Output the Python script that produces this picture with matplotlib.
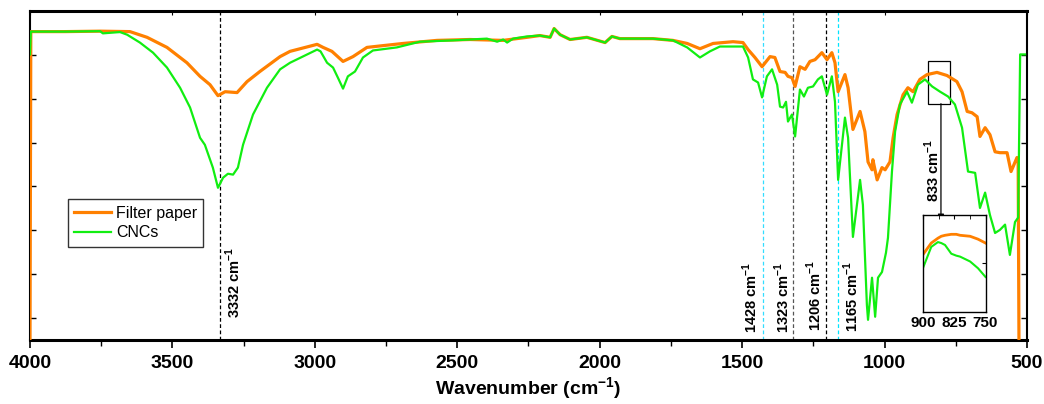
import matplotlib
matplotlib.use('Agg')
import matplotlib.pyplot as plt
from matplotlib.patches import Rectangle
from matplotlib.ticker import MultipleLocator

plt.rcParams['font.family'] = ['Liberation Sans', 'DejaVu Sans']
plt.rcParams['mathtext.fontset'] = 'custom'
plt.rcParams['mathtext.rm'] = 'Liberation Sans'
plt.rcParams['mathtext.bf'] = 'Liberation Sans:bold'

# FTIR spectra (wavenumber in cm-1, arbitrary transmittance units)
paper_wn = [4000, 3997, 3877, 3754, 3649, 3589, 3519, 3449, 3403, 3368, 3340, 3315, 3273,
            3238, 3193, 3122, 3087, 2992, 2971, 2940, 2901, 2866, 2817, 2761, 2690, 2571,
            2455, 2339, 2255, 2210, 2174, 2160, 2139, 2104, 2045, 1981, 1957, 1929, 1813,
            1743, 1693, 1648, 1602, 1532, 1497, 1479, 1455, 1430, 1402, 1385, 1367, 1349,
            1339, 1325, 1314, 1297, 1279, 1262, 1244, 1220, 1202, 1185, 1174, 1163, 1139,
            1128, 1111, 1086, 1069, 1058, 1044, 1041, 1026, 1009, 998, 981, 970, 956, 935,
            918, 900, 876, 851, 816, 781, 746, 728, 710, 693, 675, 665, 647, 630, 612, 595,
            570, 556, 535, 531, 528]
paper_t = [0.3, 7.53, 7.53, 7.54, 7.53, 7.40, 7.17, 6.82, 6.51, 6.32, 6.07, 6.16, 6.14,
           6.39, 6.62, 6.96, 7.08, 7.24, 7.17, 7.08, 6.85, 6.96, 7.17, 7.21, 7.26, 7.33,
           7.35, 7.33, 7.40, 7.44, 7.40, 7.60, 7.46, 7.35, 7.40, 7.28, 7.42, 7.37, 7.37,
           7.33, 7.26, 7.14, 7.26, 7.30, 7.28, 7.12, 6.94, 6.73, 6.96, 6.94, 6.62, 6.60,
           6.51, 6.48, 6.28, 6.73, 6.67, 6.85, 6.89, 7.05, 6.89, 7.05, 6.82, 6.16, 6.55,
           6.25, 5.30, 5.71, 5.25, 4.56, 4.38, 4.61, 4.15, 4.43, 4.38, 4.56, 5.11, 5.64, 6.09,
           6.25, 6.16, 6.44, 6.55, 6.60, 6.53, 6.39, 6.16, 5.71, 5.68, 5.59, 5.14, 5.34, 5.18,
           4.79, 4.77, 4.77, 4.34, 4.66, 4.56, 0.3]

cnc_wn = [4000, 3997, 3877, 3754, 3744, 3684, 3659, 3614, 3568, 3519, 3473, 3438, 3403,
          3386, 3358, 3340, 3322, 3305, 3287, 3270, 3252, 3217, 3168, 3122, 3087, 2992,
          2980, 2957, 2936, 2919, 2901, 2884, 2859, 2831, 2796, 2712, 2631, 2515, 2396,
          2360, 2339, 2325, 2304, 2255, 2210, 2174, 2160, 2139, 2104, 2045, 1981, 1957,
          1929, 1813, 1743, 1693, 1648, 1613, 1578, 1507, 1497, 1479, 1462, 1444, 1430,
          1413, 1395, 1377, 1367, 1356, 1346, 1339, 1325, 1314, 1297, 1283, 1269, 1251,
          1234, 1220, 1202, 1185, 1174, 1163, 1139, 1128, 1111, 1086, 1076, 1062, 1058,
          1044, 1033, 1023, 1009, 995, 988, 974, 963, 946, 921, 904, 883, 858, 833, 805,
          777, 753, 728, 707, 682, 665, 647, 630, 612, 595, 577, 560, 542, 531, 524, 507]
cnc_t = [7.01, 7.53, 7.53, 7.54, 7.49, 7.52, 7.46, 7.28, 7.05, 6.71, 6.25, 5.80, 5.11,
         4.95, 4.43, 3.97, 4.20, 4.29, 4.27, 4.43, 4.95, 5.64, 6.25, 6.67, 6.82, 7.12,
         7.08, 6.82, 6.71, 6.48, 6.23, 6.51, 6.62, 6.94, 7.10, 7.17, 7.30, 7.33, 7.37,
         7.30, 7.35, 7.28, 7.37, 7.42, 7.44, 7.40, 7.60, 7.46, 7.35, 7.40, 7.28, 7.42,
         7.37, 7.37, 7.33, 7.17, 6.94, 7.08, 7.19, 7.19, 7.19, 6.94, 6.44, 6.37, 6.03,
         6.51, 6.67, 6.32, 5.82, 5.80, 5.93, 5.48, 5.64, 5.14, 6.21, 6.05, 6.25, 6.28,
         6.44, 6.51, 6.09, 6.51, 5.93, 4.15, 5.57, 5.11, 2.85, 4.15, 3.58, 1.30, 0.96,
         1.92, 1.03, 1.92, 2.05, 2.49, 2.83, 4.34, 5.25, 5.87, 6.16, 5.91, 6.32, 6.44,
         6.28, 6.16, 6.05, 5.87, 5.34, 4.34, 4.31, 3.51, 3.86, 3.35, 2.94, 3.01, 3.13,
         2.44, 3.19, 3.29, 7.01, 7.01]

# zoomed region 900-750 cm-1 shown in the inset
inset_wn = [900, 880, 864, 856, 847, 832, 820, 811, 787, 768, 750]
inset_paper = [6.49, 6.61, 6.66, 6.68, 6.69, 6.70, 6.70, 6.69, 6.68, 6.65, 6.61]
inset_cnc = [6.35, 6.57, 6.62, 6.61, 6.59, 6.50, 6.48, 6.47, 6.42, 6.35, 6.26]

peaks = [3332, 1428, 1323, 1206, 1165]
peak_colors = ['black', '#33DDFF', '#555555', 'black', '#00E5FF']
peak_label_x = [3285, 1470, 1360, 1246, 1118]
peak_label_y = [1.0, 0.66, 0.66, 0.7, 0.68]

orange = '#FF8000'
green = '#11EE11'

fig = plt.figure(figsize=(10.44, 4.04), dpi=100)
ax = fig.add_axes([0.0287, 0.1584, 0.955, 0.8144])

ax.plot(paper_wn, paper_t, color=orange, lw=2.3, label='Filter paper', zorder=3)
ax.plot(cnc_wn, cnc_t, color=green, lw=1.6, label='CNCs', zorder=3)

for p, c, lx, ly in zip(peaks, peak_colors, peak_label_x, peak_label_y):
    ax.axvline(p, color=c, lw=0.9, ls=(0, (3, 2)), zorder=1)
    ax.text(lx, ly, str(p) + r' cm$^{\mathbf{-1}}$', rotation=90, ha='center', va='bottom',
            fontsize=10.5, fontweight='bold')

ax.set_xlim(4000, 500)
ax.set_ylim(0.5, 8.0)
ax.xaxis.set_major_locator(MultipleLocator(500))
ax.xaxis.set_minor_locator(MultipleLocator(250))
ax.set_yticks([1, 2, 3, 4, 5, 6, 7])
ax.tick_params(axis='x', which='major', direction='out', length=6, width=1.2,
               labelsize=14, pad=5)
ax.tick_params(axis='x', which='minor', direction='out', length=4, width=1.0)
ax.tick_params(axis='y', direction='in', length=4, width=1.0, right=True, labelleft=False)
ax.secondary_xaxis('top').tick_params(which='both', direction='in', length=3, labeltop=False)
for lab in ax.get_xticklabels():
    lab.set_fontweight('bold')
for s in ax.spines.values():
    s.set_linewidth(1.5)
ax.spines['bottom'].set_linewidth(2.2)
ax.spines['top'].set_linewidth(2.2)

ax.set_xlabel(r'Wavenumber (cm$^{\mathbf{-1}}$)', fontsize=14, fontweight='bold', labelpad=2)

leg = ax.legend(loc='upper left', bbox_to_anchor=(0.03, 0.452), fontsize=11.5, frameon=True,
                fancybox=False, edgecolor='black', handlelength=2.3, borderpad=0.4,
                labelspacing=0.3, handletextpad=0.3)
leg.get_frame().set_linewidth(1.0)

# marked region and arrow to inset
ax.add_patch(Rectangle((848, 5.89), -78, 0.96, fill=False, ec='black', lw=0.9))
ax.annotate('', xy=(802, 3.16), xytext=(802, 5.95),
            arrowprops=dict(arrowstyle='-|>', color='black', lw=0.9, mutation_scale=9))
ax.text(832, 4.36, r'833 cm$^{\mathbf{-1}}$', rotation=90, ha='center', va='center',
        fontsize=10.5, fontweight='bold')

ins = fig.add_axes([0.884, 0.228, 0.060, 0.240])
ins.plot(inset_wn, inset_paper, color=orange, lw=2.0)
ins.plot(inset_wn, inset_cnc, color=green, lw=1.5)
ins.set_xlim(900, 750)
ins.set_ylim(5.9, 6.9)
ins.set_xticks([900, 825, 750])
ins.xaxis.set_minor_locator(MultipleLocator(37.5))
ins.set_yticks([6.4])
ins.tick_params(axis='x', which='both', direction='in', top=True, bottom=False,
                length=3, labelsize=11, pad=3)
ins.tick_params(axis='y', direction='in', left=False, right=True, labelleft=False, length=3)
for lab in ins.get_xticklabels():
    lab.set_fontweight('bold')
for s in ins.spines.values():
    s.set_linewidth(1.0)

fig.savefig('out.png', dpi=100)
